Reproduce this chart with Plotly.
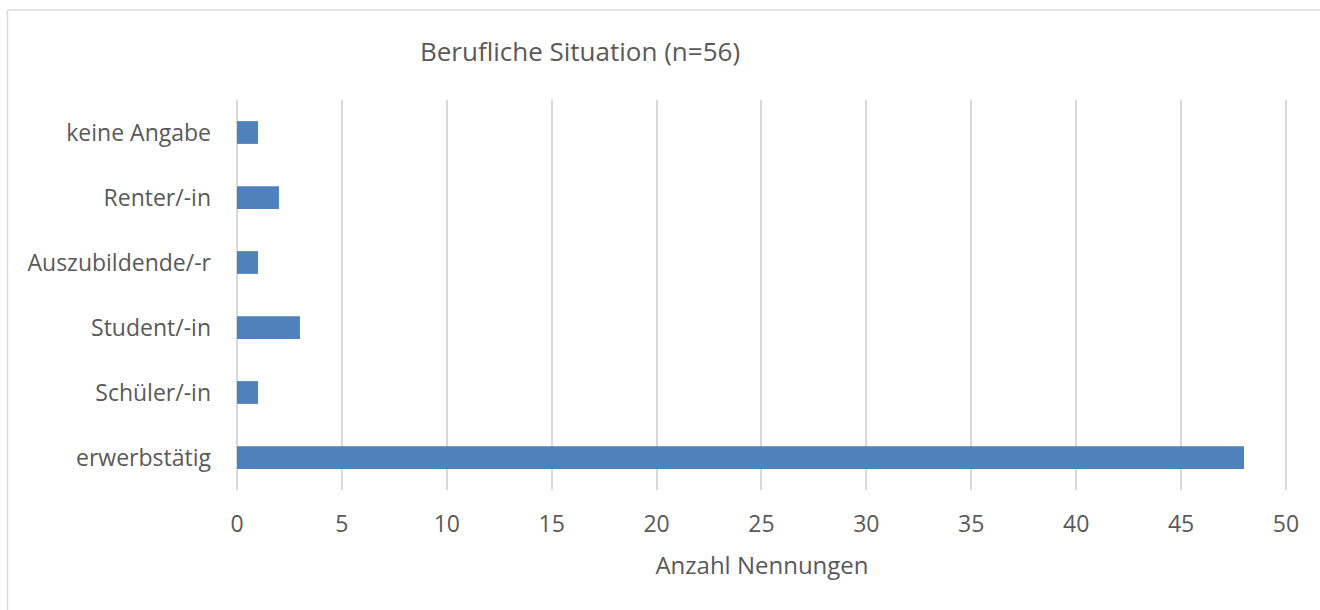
import plotly.graph_objects as go

categories = ["erwerbstätig", "Schüler/-in", "Student/-in", "Auszubildende/-r", "Renter/-in", "keine Angabe"]
values = [48, 1, 3, 1, 2, 1]
title_text = "Berufliche Situation (n=56)"
x_title = "Anzahl Nennungen"
x_ticks = [0, 5, 10, 15, 20, 25, 30, 35, 40, 45, 50]

W, H = 1320, 610
L, R, T, B = 237, 33, 100, 120
pw, ph = W - L - R, H - T - B

def px_x(px):
    return (px - L) / pw

def px_y(py):
    return (H - B - py) / ph

text_color = "#595959"
font_family = "Open Sans, Noto Sans, sans-serif"
border = dict(color="#d9d9d9", width=1.5)

fig = go.Figure(go.Bar(
    y=categories, x=values, orientation="h",
    marker=dict(color="#4f81bd", line=dict(width=0)),
    hoverinfo="x+y",
))

fig.update_layout(
    width=W, height=H,
    margin=dict(l=L, r=R, t=T, b=B, autoexpand=False),
    paper_bgcolor="white", plot_bgcolor="white",
    bargap=0.65,
    showlegend=False,
    font=dict(family=font_family, color=text_color, size=22),
    title=dict(text=title_text, x=px_x(580), xref="paper", xanchor="center",
               y=1 - 52 / H, yref="container", yanchor="middle",
               font=dict(size=26, color=text_color, family=font_family)),
    xaxis=dict(range=[0, 50.05], tickvals=x_ticks, showgrid=True, gridcolor="#d9d9d9", gridwidth=1.5,
               zeroline=True, zerolinecolor="#d9d9d9", zerolinewidth=1.5,
               showline=False, ticks="", ticklabelstandoff=18,
               tickfont=dict(size=23),
               title=dict(text=x_title, standoff=19, font=dict(size=24))),
    yaxis=dict(type="category", categoryorder="array", categoryarray=categories,
               showgrid=False, zeroline=False, showline=False, ticks="",
               ticklabelstandoff=25, tickfont=dict(size=23)),
    shapes=[
        dict(type="line", xref="paper", yref="paper",
             x0=px_x(7.5), x1=px_x(7.5), y0=px_y(640), y1=px_y(10), line=border, layer="below"),
        dict(type="line", xref="paper", yref="paper",
             x0=px_x(7.5), x1=px_x(1340), y0=px_y(10), y1=px_y(10), line=border, layer="below"),
    ],
)

fig.write_html("out.html", config={"displayModeBar": False},
               post_script="document.body.style.margin='0';document.body.style.overflow='hidden';")
